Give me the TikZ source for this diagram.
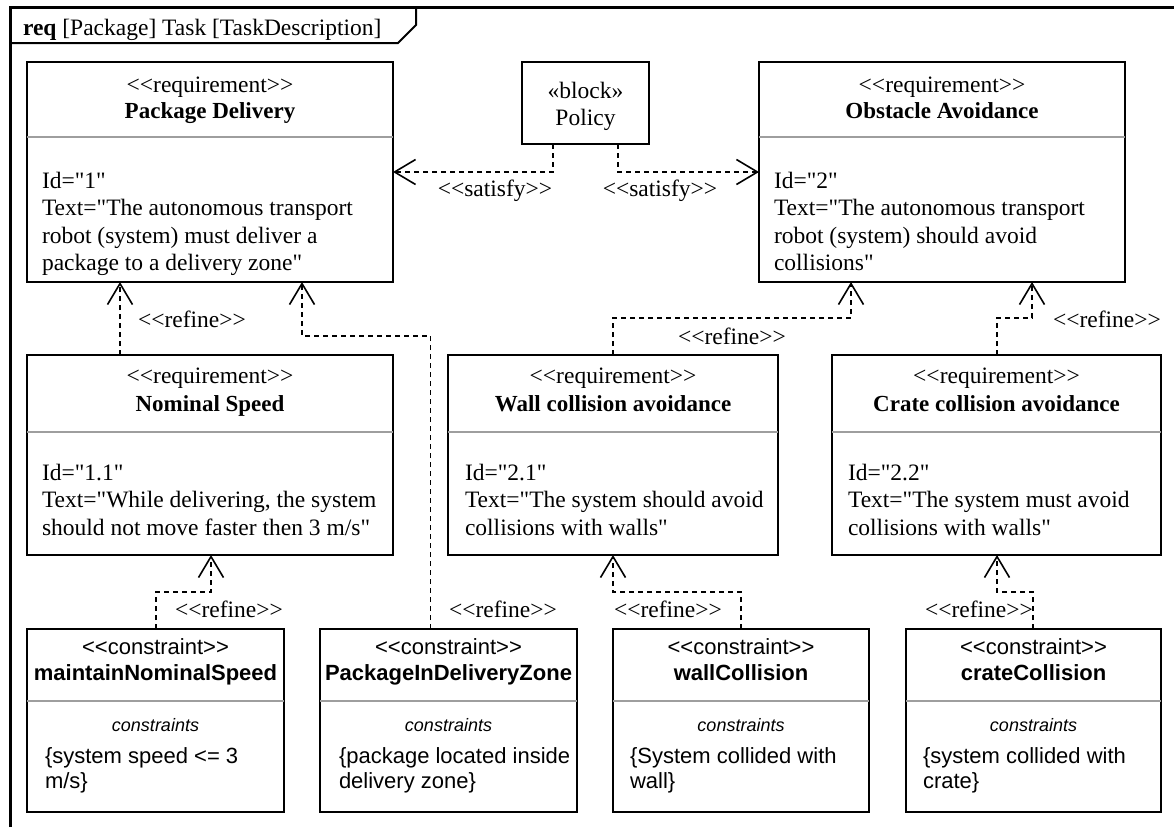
\documentclass[tikz,border=0pt]{standalone}
\usepackage{fontspec}
\newfontfamily\rqfont{Liberation Serif}
\newfontfamily\csfont{Liberation Sans}
\usetikzlibrary{arrows.meta,calc}

\begin{document}
\begin{tikzpicture}[x=1pt,y=-1pt,
  box/.style={draw=black, line width=1.8pt, fill=white, inner sep=0pt, outer sep=0pt, anchor=north west},
  sepline/.style={draw=black!38, line width=1.5pt},
  dep/.style={draw=black, line width=1.6pt, dash pattern=on 5pt off 4pt,
    -{Straight Barb[length=21pt,width=25pt]}},
  rq/.style={font=\rqfont\fontsize{23.5}{27.5}\selectfont, inner sep=0pt, outer sep=0pt},
  rqname/.style={font=\rqfont\bfseries\fontsize{23}{27.5}\selectfont, inner sep=0pt, outer sep=0pt},
  cs/.style={font=\csfont\fontsize{22}{25}\selectfont, inner sep=0pt, outer sep=0pt},
  csname/.style={font=\csfont\bfseries\fontsize{22}{25}\selectfont, inner sep=0pt, outer sep=0pt},
  cslabel/.style={font=\csfont\itshape\fontsize{18}{21}\selectfont, inner sep=0pt, outer sep=0pt},
  lbl/.style={rq, anchor=base},
]
\useasboundingbox (0,0) rectangle (1174,827);

% diagram frame and its name tab
\draw[line width=3pt] (10,827) -- (10,7) -- (1174,7);
\draw[line width=2pt] (10,43) -- (398,43) -- (416,25) -- (416,7);
\node[rq, anchor=base west] (hdr) at (23,35) {\textbf{req} [Package] Task [TaskDescription]};

% ---------- requirement boxes ----------
% (multi-line texts are placed by the baseline of their last line)
\node[box, minimum width=366pt, minimum height=220pt] (pd) at (27,62) {};
\draw[sepline] ($(pd.north west)+(0,75)$) -- ($(pd.north east)+(0,75)$);
\node[rq, anchor=base] (pd-st) at (210,92) {<<requirement>>};
\node[rqname, anchor=base] (pd-nm) at (210,118) {Package Delivery};
\node[rq, anchor=base west, align=left] (pd-tx) at (42,270.5)
  {Id="1"\\Text="The autonomous transport\\robot (system) must deliver a\\package to a delivery zone"};

\node[box, minimum width=366pt, minimum height=220pt] (oa) at (759,62) {};
\draw[sepline] ($(oa.north west)+(0,75)$) -- ($(oa.north east)+(0,75)$);
\node[rq, anchor=base] (oa-st) at (942,92) {<<requirement>>};
\node[rqname, anchor=base] (oa-nm) at (942,118) {Obstacle Avoidance};
\node[rq, anchor=base west, align=left] (oa-tx) at (774,270.5)
  {Id="2"\\Text="The autonomous transport\\robot (system) should avoid\\collisions"};

\node[box, minimum width=366pt, minimum height=200pt] (ns) at (27,355) {};
\draw[sepline] ($(ns.north west)+(0,77)$) -- ($(ns.north east)+(0,77)$);
\node[rq, anchor=base] (ns-st) at (210,383) {<<requirement>>};
\node[rqname, anchor=base] (ns-nm) at (210,411) {Nominal Speed};
\node[rq, anchor=base west, align=left] (ns-tx) at (42,535)
  {Id="1.1"\\Text="While delivering, the system\\should not move faster then 3 m/s"};

\node[box, minimum width=330pt, minimum height=200pt] (wca) at (448,355) {};
\draw[sepline] ($(wca.north west)+(0,77)$) -- ($(wca.north east)+(0,77)$);
\node[rq, anchor=base] (wca-st) at (613,383) {<<requirement>>};
\node[rqname, anchor=base] (wca-nm) at (613,411) {Wall collision avoidance};
\node[rq, anchor=base west, align=left] (wca-tx) at (465,535)
  {Id="2.1"\\Text="The system should avoid\\collisions with walls"};

\node[box, minimum width=329pt, minimum height=200pt] (cca) at (832,355) {};
\draw[sepline] ($(cca.north west)+(0,77)$) -- ($(cca.north east)+(0,77)$);
\node[rq, anchor=base] (cca-st) at (996.5,383) {<<requirement>>};
\node[rqname, anchor=base] (cca-nm) at (996.5,411) {Crate collision avoidance};
\node[rq, anchor=base west, align=left] (cca-tx) at (848,535)
  {Id="2.2"\\Text="The system must avoid\\collisions with walls"};

% ---------- block ----------
\node[box, minimum width=127pt, minimum height=82pt] (pol) at (522,62) {};
\node[rq, anchor=base] (pol-st) at (585.5,98) {«block»};
\node[rq, anchor=base] (pol-nm) at (585.5,125) {Policy};

% ---------- constraint blocks ----------
\node[box, minimum width=257pt, minimum height=183pt] (mns) at (27,629) {};
\draw[sepline] ($(mns.north west)+(0,72)$) -- ($(mns.north east)+(0,72)$);
\node[cs, anchor=base] (mns-st) at (155.5,654) {<<constraint>>};
\node[csname, anchor=base] (mns-nm) at (155.5,680) {maintainNominalSpeed};
\node[cslabel, anchor=base] (mns-lb) at (155.5,731) {constraints};
\node[cs, anchor=base west, align=left] (mns-tx) at (45,788) {\{system speed <= 3\\m/s\}};

\node[box, minimum width=257pt, minimum height=183pt] (pidz) at (320,629) {};
\draw[sepline] ($(pidz.north west)+(0,72)$) -- ($(pidz.north east)+(0,72)$);
\node[cs, anchor=base] (pidz-st) at (448.5,654) {<<constraint>>};
\node[csname, anchor=base] (pidz-nm) at (448.5,680) {PackageInDeliveryZone};
\node[cslabel, anchor=base] (pidz-lb) at (448.5,731) {constraints};
\node[cs, anchor=base west, align=left] (pidz-tx) at (339,788) {\{package located inside\\delivery zone\}};

\node[box, minimum width=256pt, minimum height=183pt] (wc) at (613,629) {};
\draw[sepline] ($(wc.north west)+(0,72)$) -- ($(wc.north east)+(0,72)$);
\node[cs, anchor=base] (wc-st) at (741,654) {<<constraint>>};
\node[csname, anchor=base] (wc-nm) at (741,680) {wallCollision};
\node[cslabel, anchor=base] (wc-lb) at (741,731) {constraints};
\node[cs, anchor=base west, align=left] (wc-tx) at (630,788) {\{System collided with\\wall\}};

\node[box, minimum width=255pt, minimum height=183pt] (cc) at (906,629) {};
\draw[sepline] ($(cc.north west)+(0,72)$) -- ($(cc.north east)+(0,72)$);
\node[cs, anchor=base] (cc-st) at (1033.5,654) {<<constraint>>};
\node[csname, anchor=base] (cc-nm) at (1033.5,680) {crateCollision};
\node[cslabel, anchor=base] (cc-lb) at (1033.5,731) {constraints};
\node[cs, anchor=base west, align=left] (cc-tx) at (923,788) {\{system collided with\\crate\}};

% ---------- satisfy dependencies ----------
\draw[dep] ([xshift=31pt]pol.south west) |- (pd.east);
\draw[dep] ([xshift=-31pt]pol.south east) |- (oa.west);
\node[lbl] (sat1) at (495,196) {<<satisfy>>};
\node[lbl] (sat2) at (660,196) {<<satisfy>>};

% ---------- refine dependencies ----------
\draw[dep] ([xshift=93pt]ns.north west) -- ([xshift=93pt]pd.south west);
\draw[dep] ([xshift=110.5pt]pidz.north west) -- ++(0,-293) -| ([xshift=275pt]pd.south west);
\draw[dep] ([xshift=129pt]mns.north west) -- ++(0,-37) -| ([xshift=184pt]ns.south west);
\draw[dep] ([xshift=128pt]wc.north west) -- ++(0,-37) -| ([xshift=165pt]wca.south west);
\draw[dep] ([xshift=127pt]cc.north west) -- ++(0,-37) -| ([xshift=165pt]cca.south west);
\draw[dep] ([xshift=165pt]wca.north west) -- ++(0,-37) -| ([xshift=92pt]oa.south west);
\draw[dep] ([xshift=165pt]cca.north west) -- ++(0,-37) -| ([xshift=273pt]oa.south west);

\node[lbl] (ref1) at (192,327) {<<refine>>};
\node[lbl] (ref2) at (732,344) {<<refine>>};
\node[lbl] (ref3) at (1107,327) {<<refine>>};
\node[lbl] (ref4) at (229,617) {<<refine>>};
\node[lbl] (ref5) at (503,617) {<<refine>>};
\node[lbl] (ref6) at (668,617) {<<refine>>};
\node[lbl] (ref7) at (979,617) {<<refine>>};
\end{tikzpicture}
\end{document}
